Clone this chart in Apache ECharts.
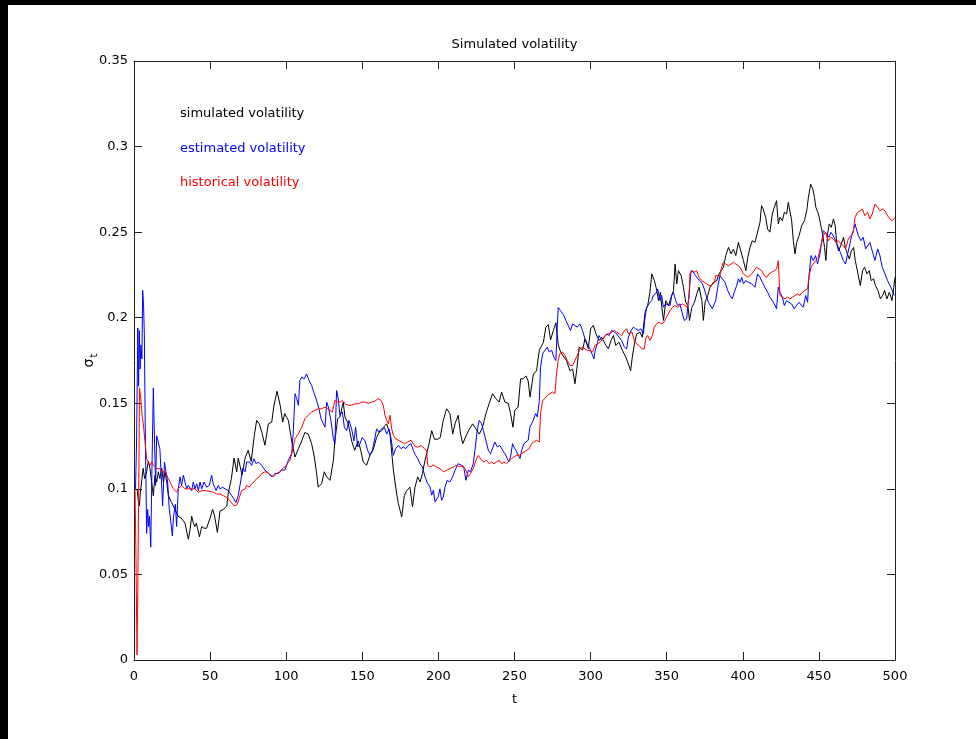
<!DOCTYPE html>
<html>
<head>
<meta charset="utf-8">
<title>Simulated volatility</title>
<script src="https://cdn.jsdelivr.net/npm/echarts@6/dist/echarts.min.js"></script>
<style>
  html, body { margin: 0; padding: 0; background: #fff; }
  #chart { width: 976px; height: 739px; }
</style>
</head>
<body>
<div id="chart"></div>
<script>
// Volatility paths: [t, sigma_t]
const simulatedVol = [
  [2,0.100],[3,0.092],[3.5,0.090],[4.2,0.098],[5,0.104],[6,0.112],[7,0.106],[8.3,0.110],[9.4,0.116],[10.5,0.112],
  [11.6,0.104],[12.7,0.096],[13.8,0.108],[14.9,0.104],[16,0.110],[17,0.106],[18.2,0.112],[19.3,0.104],[20.4,0.110],[21.5,0.104],
  [22.6,0.096],[24.7,0.092],[27,0.088],[29,0.084],[31,0.083],[33.5,0.080],[35.7,0.0706],[36.8,0.076],[37.9,0.084],[39,0.080],
  [40,0.078],[41,0.080],[43,0.072],[44.5,0.078],[46,0.077],[47.7,0.077],[50,0.083],[51.7,0.088],[53,0.084],[54.8,0.0745],
  [56.5,0.087],[58.7,0.088],[61,0.090],[62,0.098],[64,0.106],[65.7,0.118],[67.5,0.110],[68.5,0.118],[71,0.108],[73,0.118],
  [75,0.1225],[77,0.116],[79,0.131],[80.6,0.140],[82.3,0.138],[84,0.133],[86,0.1255],[88.3,0.138],[90.5,0.139],[92,0.149],
  [94,0.157],[96,0.149],[97.7,0.139],[99,0.144],[101.4,0.140],[103.6,0.128],[105.8,0.1186],[108,0.1235],[110.2,0.128],[112.3,0.133],
  [114.5,0.132],[116.7,0.1264],[118.5,0.1186],[120,0.109],[121,0.101],[123.3,0.103],[125,0.110],[126.6,0.107],[128.8,0.105],[131,0.1167],
  [132,0.128],[133.8,0.141],[135.3,0.142],[137.5,0.1507],[138.6,0.142],[140.8,0.138],[143,0.128],[145,0.1225],[147.3,0.128],[149,0.1225],
  [150.6,0.1157],[152.8,0.1138],[155,0.1196],[157,0.1225],[159.4,0.130],[161.6,0.134],[163.8,0.136],[166,0.138],[168.2,0.132],[170.4,0.111],
  [172.6,0.097],[173.7,0.0914],[175.9,0.0836],[177.6,0.096],[179.2,0.099],[181.3,0.101],[183,0.0895],[184.6,0.101],[186.4,0.107],[188,0.104],
  [189.5,0.109],[191.2,0.1167],[193.4,0.1245],[195.6,0.134],[197.4,0.129],[199.6,0.129],[201.2,0.130],[203.2,0.140],[205.4,0.1468],[207.6,0.144],
  [209.4,0.132],[210.9,0.138],[213,0.143],[214.6,0.132],[216,0.1264],[218.2,0.131],[220.4,0.135],[222.5,0.138],[224.7,0.135],[226.9,0.132],
  [229,0.136],[231.2,0.144],[233.4,0.150],[235.6,0.1556],[237.8,0.1527],[240,0.1507],[241.5,0.1566],[243.7,0.1507],[245.9,0.150],[247.4,0.144],
  [249,0.136],[250.2,0.1459],[252.4,0.1478],[254,0.1643],[255.7,0.1643],[257.5,0.166],[259,0.163],[260.2,0.1536],[262.4,0.167],[264.5,0.169],
  [266.3,0.181],[269,0.1857],[270.6,0.1945],[272.2,0.196],[273.7,0.187],[275.5,0.1925],[277.2,0.197],[278.8,0.184],[280.3,0.180],[282.5,0.177],
  [284.2,0.175],[286.4,0.169],[288.2,0.170],[289.7,0.1614],[290.8,0.169],[292.5,0.183],[294.7,0.181],[296.3,0.1877],[298.5,0.182],[300,0.1935],
  [301.8,0.1955],[303.5,0.1906],[305.7,0.1867],[307.3,0.1886],[309.5,0.1847],[311.7,0.1818],[313.4,0.1867],[315,0.1896],[316.5,0.1838],[318.7,0.1857],
  [320.9,0.1809],[323.1,0.177],[324.8,0.173],[326.3,0.169],[327.4,0.177],[328.8,0.1847],[330.3,0.1906],[332.5,0.1916],[334,0.1886],[335.8,0.2032],
  [337.5,0.207],[339,0.215],[340.2,0.2256],[341.9,0.2217],[343.5,0.216],[344.6,0.210],[345.9,0.215],[346.8,0.206],[347.9,0.1984],[349.4,0.210],
  [351.2,0.207],[352.9,0.212],[354.5,0.216],[355.5,0.2314],[356.6,0.2198],[357.7,0.2275],[359.5,0.2246],[361,0.2178],[362.5,0.209],[363.9,0.207],
  [365,0.1984],[366.5,0.206],[368.2,0.209],[369.8,0.214],[371.3,0.2178],[373.1,0.210],[374.1,0.1984],[375.2,0.209],[377,0.213],[378.5,0.2178],
  [380.7,0.2207],[382.9,0.2217],[384.4,0.2256],[385.7,0.2275],[387.3,0.2295],[388.8,0.2363],[390.6,0.2411],[392.3,0.2373],[393.8,0.240],[395.4,0.2363],
  [397.1,0.244],[398.7,0.239],[400.4,0.2334],[402,0.2275],[403.3,0.2353],[404.7,0.241],[406.2,0.245],[408,0.244],[409.7,0.250],[411.3,0.2557],
  [412.3,0.2655],[413.4,0.2635],[415,0.2587],[416.3,0.2518],[417.8,0.250],[419.4,0.2606],[420.7,0.2645],[422.2,0.2684],[423.3,0.2548],[424.4,0.2587],
  [426,0.2567],[427.3,0.2616],[428.8,0.2606],[429.9,0.2674],[431,0.2664],[432.1,0.2567],[433.2,0.245],[434.3,0.2373],[435.4,0.244],[437,0.248],
  [438.7,0.2538],[440.5,0.2567],[442,0.2625],[443.1,0.2703],[444.6,0.278],[446,0.2751],[447.1,0.2703],[448,0.2645],[449.3,0.2616],[450.2,0.2587],
  [451.5,0.2528],[452.4,0.249],[453.7,0.241],[454.6,0.2334],[455.7,0.249],[456.8,0.2548],[458.1,0.2528],[459.6,0.2577],[460.7,0.2538],[461.8,0.243],
  [462.9,0.239],[464.7,0.243],[466.2,0.247],[467.3,0.241],[468.4,0.238],[470,0.2343],[471.3,0.239],[472.8,0.241],[473.9,0.2334],[475.7,0.2256],
  [477.2,0.2188],[478.7,0.2275],[480,0.2295],[481.6,0.2256],[483.1,0.2275],[484.4,0.2217],[486,0.2227],[487.1,0.2188],[488.8,0.2159],[490.4,0.211],
  [491.9,0.213],[493.2,0.2159],[494.7,0.211],[496.3,0.2149],[498,0.210],[499.2,0.2178],[500,0.2236]
];

const estimatedVol = [
  [1,0.100],[1.7,0.128],[2.5,0.194],[3,0.160],[3.5,0.1925],[4,0.170],[4.5,0.184],[5.2,0.176],[5.7,0.216],[6.3,0.207],
  [6.8,0.190],[7.4,0.135],[8.3,0.074],[9,0.088],[9.6,0.078],[10.2,0.084],[11,0.066],[11.8,0.112],[12.7,0.159],[13.4,0.131],
  [14.2,0.102],[14.9,0.131],[16,0.130],[17,0.1235],[18.2,0.102],[18.8,0.090],[20,0.1157],[21,0.110],[22.1,0.104],[23.2,0.088],
  [24.3,0.080],[25.2,0.0725],[26,0.084],[27.2,0.091],[28,0.078],[29.1,0.100],[30.2,0.107],[31.3,0.102],[32.4,0.108],[33.5,0.104],
  [34.6,0.100],[35.7,0.102],[36.8,0.103],[37.9,0.099],[39,0.104],[40,0.100],[41.2,0.103],[42.3,0.099],[43.4,0.104],[44.5,0.100],
  [46,0.104],[47.7,0.101],[49.5,0.102],[51,0.108],[52,0.103],[53.9,0.099],[55.4,0.102],[56.5,0.100],[58.3,0.101],[59.8,0.100],
  [62,0.099],[64.2,0.096],[65.7,0.094],[67,0.092],[68.5,0.096],[70,0.104],[71.4,0.112],[73,0.110],[74,0.1157],[75.8,0.1157],
  [77.3,0.1137],[78.8,0.1176],[80.2,0.1147],[81.7,0.1157],[83.9,0.1137],[86,0.111],[88.3,0.109],[90.5,0.107],[92.6,0.109],[94.8,0.109],
  [97,0.111],[99.2,0.111],[101.4,0.1167],[103.6,0.1206],[104.7,0.134],[105.8,0.1556],[106.9,0.1527],[108,0.1488],[109,0.1634],[110.2,0.1653],
  [111.9,0.1643],[113.4,0.1672],[115,0.1634],[116.7,0.1604],[118.5,0.1556],[120,0.1517],[121.5,0.1468],[122.9,0.141],[124.4,0.138],[125.5,0.136],
  [126.6,0.1507],[127.7,0.1478],[129.4,0.140],[131,0.1293],[132,0.1264],[133.1,0.1575],[134.2,0.1527],[135.3,0.143],[136.9,0.145],[138.2,0.136],
  [139.7,0.134],[141.2,0.140],[143,0.135],[144.5,0.128],[145.6,0.136],[147,0.1245],[148.5,0.1264],[150,0.130],[151.8,0.128],[153.5,0.1225],
  [155,0.1196],[156.6,0.1225],[157.9,0.128],[159.4,0.135],[161,0.133],[162.7,0.134],[164.5,0.136],[166,0.132],[167.5,0.135],[168.8,0.130],
  [170.4,0.1196],[171.9,0.1235],[173.7,0.1254],[175.4,0.1235],[177,0.1245],[178.5,0.1235],[180.2,0.1254],[182,0.1264],[183.5,0.1225],[185,0.1196],
  [186.4,0.1177],[187.9,0.1147],[189.5,0.1128],[191.2,0.107],[193,0.103],[194.5,0.101],[195.6,0.0963],[196.7,0.0992],[197.8,0.0924],[198.8,0.0914],
  [199.9,0.0953],[201,0.100],[202.1,0.0933],[203.2,0.0953],[204.3,0.101],[205.8,0.105],[207.6,0.104],[209.3,0.107],[210.9,0.1108],[213,0.1147],
  [215.2,0.1138],[216.8,0.1118],[218.1,0.105],[219.6,0.1108],[221.1,0.110],[222.9,0.1147],[224,0.1225],[225.5,0.1342],[226.8,0.140],[228.4,0.138],
  [229.5,0.1342],[231.2,0.1284],[232.8,0.1225],[234.3,0.1206],[235.6,0.1196],[237.1,0.1274],[238.7,0.1245],[240.4,0.1254],[242.2,0.1225],[243.7,0.1206],
  [244.8,0.1186],[246.3,0.1157],[247.4,0.1186],[248.7,0.1264],[249.6,0.1245],[250.9,0.1225],[252.5,0.1196],[253.6,0.1177],[254.7,0.1225],[256.2,0.1264],
  [257.5,0.1254],[259,0.1284],[260.1,0.136],[261.2,0.138],[262.3,0.140],[263.9,0.144],[265,0.142],[266.3,0.1517],[267.1,0.171],[268.5,0.179],
  [270,0.181],[271.5,0.1828],[272.8,0.180],[274.4,0.181],[275.9,0.177],[277.2,0.175],[278.1,0.1945],[278.7,0.206],[280.3,0.204],[282,0.202],
  [283.8,0.1984],[285.3,0.1954],[286.8,0.1925],[288.2,0.1964],[289.7,0.1954],[291.2,0.1945],[293,0.1964],[294.7,0.1925],[296.3,0.1877],[297.8,0.1848],
  [299.6,0.1818],[301.3,0.178],[302.2,0.176],[303,0.181],[304.4,0.1848],[305.5,0.1896],[307.3,0.1867],[309,0.1886],[310.6,0.1906],[312.1,0.1896],
  [313.9,0.1925],[315.6,0.1916],[317.1,0.1906],[318.7,0.1886],[320.4,0.1867],[322.2,0.1828],[323.7,0.1818],[324.8,0.1886],[326.6,0.1925],[328.1,0.1945],
  [329.6,0.1935],[331.4,0.1925],[333.1,0.1935],[334.7,0.1906],[335.8,0.2003],[336.8,0.2061],[338.4,0.2081],[340.1,0.210],[341.2,0.213],[342.8,0.214],
  [344.1,0.2168],[345.6,0.210],[346.7,0.213],[347.8,0.2061],[349.3,0.2081],[350.6,0.209],[352.2,0.2071],[353.3,0.213],[354.4,0.2149],[355.9,0.210],
  [357.2,0.2071],[358.7,0.2081],[360.3,0.2022],[361.6,0.1984],[363.1,0.1993],[364.7,0.214],[366,0.2275],[367.5,0.2266],[369,0.2246],[370.4,0.2227],
  [371.9,0.2217],[373.4,0.2198],[374.7,0.2168],[376.3,0.212],[377.4,0.209],[378.5,0.210],[380,0.2052],[381.3,0.2081],[382.2,0.210],[383.5,0.2178],
  [385,0.2246],[386.6,0.2227],[388.3,0.2207],[390.1,0.2159],[391.6,0.213],[393.1,0.211],[394.4,0.2149],[396,0.2188],[397.1,0.2227],[398.2,0.2207],
  [399.3,0.2236],[400.4,0.2198],[401.9,0.2217],[403.6,0.2207],[405.8,0.2198],[408,0.2178],[409.7,0.2256],[411.3,0.2236],[412.8,0.2207],[414.5,0.2178],
  [416.3,0.2149],[417.8,0.212],[419.4,0.210],[420.7,0.208],[422.2,0.2052],[423.3,0.2178],[424.4,0.2149],[426,0.212],[427.3,0.2071],[428.8,0.210],
  [430.3,0.209],[432.1,0.208],[433.8,0.2052],[435.3,0.2071],[436.9,0.209],[438.2,0.208],[439.7,0.2061],[441.3,0.213],[442.6,0.209],[443.4,0.2236],
  [444.8,0.2363],[446.3,0.2334],[447.8,0.2363],[449.1,0.2314],[450.7,0.2373],[451.8,0.244],[452.9,0.2509],[454,0.2518],[455,0.249],[456.6,0.247],
  [457.9,0.2499],[459.4,0.248],[461,0.245],[462.7,0.2411],[464.5,0.2373],[466,0.2334],[467.5,0.2314],[468.9,0.2373],[470.4,0.2431],[471.5,0.248],
  [472.6,0.2509],[473.7,0.2548],[474.8,0.2538],[475.9,0.248],[477.6,0.245],[479.1,0.247],[480.7,0.2402],[482,0.2411],[483.5,0.244],[485,0.2392],
  [486.8,0.2334],[488.6,0.2402],[490.1,0.2363],[491.6,0.2295],[493.4,0.2256],[495.1,0.2217],[496.7,0.2188],[498.2,0.2159],[499.5,0.213]
];

const historicalVol = [
  [0.7,0.099],[1.3,0.060],[2,0.003],[2.5,0.040],[2.8,0.0725],[3.3,0.120],[3.6,0.159],[4.4,0.153],[5.3,0.143],[6.1,0.138],
  [7.2,0.128],[8.3,0.1176],[9.4,0.1157],[10.5,0.1137],[11.6,0.1157],[12.7,0.1137],[13.8,0.1127],[14.9,0.1118],[16,0.1127],[17,0.1118],
  [18.2,0.110],[19.3,0.111],[20.4,0.110],[21.5,0.108],[22.6,0.106],[23.7,0.104],[24.7,0.102],[25.8,0.100],[27,0.099],[28,0.098],
  [29.1,0.100],[30.2,0.101],[31.3,0.102],[32.4,0.101],[33.5,0.100],[34.6,0.101],[35.7,0.100],[36.8,0.099],[37.9,0.100],[39,0.099],
  [40,0.100],[41.2,0.099],[42.3,0.098],[43.4,0.099],[44.5,0.099],[45.7,0.098],[46.8,0.099],[47.9,0.098],[50,0.0985],[52.2,0.098],
  [54.3,0.097],[56.5,0.097],[58.7,0.096],[61,0.095],[63,0.093],[64.8,0.091],[66.4,0.090],[67.9,0.091],[69.6,0.096],[70.7,0.099],
  [71.8,0.100],[73,0.100],[74,0.102],[75.8,0.101],[77.3,0.103],[78.8,0.104],[80.6,0.106],[82.3,0.107],[83.9,0.109],[86,0.110],
  [88.3,0.1094],[89.8,0.108],[91.5,0.107],[93.7,0.109],[96,0.110],[97.7,0.112],[99.2,0.1127],[100.7,0.1147],[102.5,0.1167],[103.6,0.1206],
  [105.8,0.1293],[108,0.1322],[110.2,0.136],[112.3,0.141],[114.5,0.143],[116.7,0.1449],[118.9,0.1459],[121.1,0.1468],[123.3,0.1468],[125.5,0.1478],
  [127.3,0.1468],[128.8,0.1459],[130.3,0.1449],[132,0.1517],[133.8,0.1507],[135.3,0.1507],[136.9,0.1517],[138.6,0.1497],[140.8,0.1488],[143,0.1488],
  [145.2,0.1497],[147.4,0.1497],[149.6,0.1507],[151.8,0.1507],[154,0.150],[156.1,0.1507],[158.3,0.1513],[160.5,0.1527],[162.3,0.1517],[163.8,0.1488],
  [164.9,0.143],[166,0.140],[167.1,0.138],[168.2,0.143],[169.3,0.135],[170.4,0.1313],[171.9,0.1293],[173.7,0.1284],[175.9,0.1274],[177.6,0.1264],
  [179.8,0.1274],[182,0.1284],[183.5,0.1264],[185,0.1245],[186.8,0.1245],[189,0.1254],[190.7,0.1235],[192.3,0.1225],[192.9,0.1138],[194.5,0.1128],
  [196.7,0.1138],[198.8,0.1128],[201,0.1118],[203.2,0.110],[205.4,0.1108],[207.6,0.1118],[209.8,0.1128],[212,0.1138],[214,0.1128],[215.9,0.1138],
  [217.4,0.1118],[218.5,0.110],[219.6,0.107],[221.1,0.1089],[222.9,0.1118],[224.7,0.1167],[226.2,0.1196],[227.3,0.1206],[228.4,0.1167],[229.9,0.1157],
  [231.7,0.1167],[233.4,0.1147],[235,0.1157],[236.5,0.1147],[238.2,0.1157],[240,0.1167],[241.5,0.1147],[243.1,0.1157],[244.8,0.1147],[246.6,0.1167],
  [248.1,0.1177],[249.6,0.1186],[251.4,0.1196],[253.1,0.1196],[254.7,0.1206],[256.2,0.1215],[258,0.1225],[259.7,0.1235],[261.2,0.1264],[262.8,0.1274],
  [264.5,0.1284],[266.3,0.1274],[267.1,0.1439],[268.5,0.1517],[270,0.1527],[271.5,0.1546],[273.3,0.1556],[275,0.1566],[276.6,0.1556],[277.6,0.1673],
  [278.7,0.175],[279.8,0.179],[281.6,0.180],[283.1,0.178],[284.7,0.175],[286.4,0.1721],[288.2,0.1721],[289.7,0.175],[291.2,0.178],[293,0.1818],
  [294.7,0.1828],[296.3,0.1818],[297.8,0.1809],[299.6,0.1809],[301.3,0.180],[302.9,0.1838],[305,0.1848],[307.3,0.1867],[309.5,0.1896],[311.7,0.1906],
  [313.9,0.1916],[315.6,0.1925],[317.1,0.1916],[318.7,0.1906],[320.4,0.1896],[322.2,0.1925],[323.7,0.1935],[324.8,0.1906],[326,0.1896],[327.2,0.1916],
  [328.7,0.1867],[330.3,0.1848],[331.8,0.1838],[333.6,0.1818],[335.3,0.1818],[336.2,0.1877],[337.5,0.1896],[339,0.1867],[340.6,0.1896],[341.9,0.1945],
  [343.4,0.1964],[345,0.1974],[346.7,0.1964],[348.2,0.1974],[349.3,0.1993],[350.6,0.2003],[352.2,0.2042],[353.7,0.2061],[355.5,0.2071],[357.2,0.2061],
  [358.7,0.2071],[360.3,0.2081],[362,0.2071],[363.6,0.2061],[364.7,0.212],[365.3,0.2256],[366.8,0.2275],[368.2,0.2266],[369.7,0.2275],[371.2,0.2236],
  [373,0.2217],[374.7,0.2207],[376.3,0.2198],[377.8,0.2188],[379.5,0.2188],[381.3,0.2207],[382.2,0.2246],[383.5,0.2236],[385,0.2246],[386.1,0.2295],
  [387.2,0.2324],[388.7,0.2314],[390.5,0.2304],[392.3,0.2314],[393.8,0.2324],[395.3,0.2314],[397.1,0.2304],[398.8,0.2285],[400.4,0.2256],[401.9,0.2246],
  [403.6,0.2236],[405.8,0.2256],[407.5,0.2275],[409,0.2295],[410.7,0.2285],[412.4,0.2275],[414.1,0.2246],[415.6,0.2236],[417.2,0.2256],[418.9,0.2266],
  [420.7,0.2275],[422.2,0.2285],[423.3,0.2334],[424.4,0.213],[426,0.212],[427.7,0.211],[429.4,0.212],[431,0.211],[432.5,0.212],[434.3,0.213],
  [436,0.2139],[437.5,0.213],[439.1,0.2149],[440.8,0.2159],[442.6,0.2168],[443.4,0.2236],[444.8,0.2295],[446.3,0.2314],[447.8,0.2334],[449.6,0.2353],
  [451.3,0.2421],[452.9,0.248],[454.4,0.2499],[456.2,0.245],[457.9,0.247],[459.4,0.246],[461,0.244],[462.7,0.245],[464.5,0.2431],[466,0.2421],
  [467.5,0.2402],[469.3,0.246],[471,0.248],[472.6,0.2499],[473.7,0.2587],[475.4,0.2616],[477,0.2625],[478.5,0.2635],[480.2,0.2596],[482,0.2616],
  [483.5,0.2577],[485,0.2606],[486.8,0.2664],[488.6,0.2645],[490.1,0.2625],[491.6,0.2635],[493.4,0.2625],[495.1,0.2596],[496.7,0.2577],[498.2,0.2567],
  [500,0.2587]
];

const seriesNames = ['simulated volatility', 'estimated volatility', 'historical volatility'];
const seriesColors = ['#000000', '#0000ff', '#ff0000'];
const seriesData = [simulatedVol, estimatedVol, historicalVol];

const FONT = '"DejaVu Sans", "Liberation Sans", Arial, sans-serif';
const AXIS_COLOR = '#222';

const chart = echarts.init(document.getElementById('chart'), null, { renderer: 'canvas' });

// shared settings for the mirrored box axes
const tickStyle = { show: true, inside: true, length: 8, lineStyle: { color: AXIS_COLOR, width: 1 } };
const lineStyle = { show: true, onZero: false, lineStyle: { color: AXIS_COLOR, width: 1 } };

const option = {
  backgroundColor: '#ffffff',
  animation: false,
  graphic: [
    { type: 'rect', shape: { x: 0, y: 0, width: 976, height: 5 }, style: { fill: '#000' }, z: 100 },
    { type: 'rect', shape: { x: 0, y: 0, width: 8, height: 739 }, style: { fill: '#000' }, z: 100 },
    {
      type: 'text', x: 514.5, y: 45, z: 100,
      style: {
        text: 'Simulated volatility', fill: '#000',
        font: '13px ' + FONT, textAlign: 'center', textVerticalAlign: 'middle'
      }
    }
  ],
  grid: { left: 134, right: 81, top: 61, bottom: 79, containLabel: false },
  legend: {
    orient: 'vertical',
    left: 170,
    top: 102,
    icon: 'rect',
    itemWidth: 0,
    itemHeight: 0,
    itemGap: 20.5,
    selectedMode: false,
    textStyle: { fontSize: 13, fontFamily: FONT, lineHeight: 14 },
    data: seriesNames.map((n, i) => ({ name: n, textStyle: { color: seriesColors[i] } }))
  },
  xAxis: [
    {
      type: 'value', min: 0, max: 500, interval: 50, position: 'bottom',
      name: 't', nameLocation: 'middle', nameGap: 33, nameMoveOverlap: false,
      nameTextStyle: { fontSize: 13, fontFamily: FONT, color: '#000' },
      axisLine: lineStyle, axisTick: tickStyle, splitLine: { show: false },
      axisLabel: { fontSize: 13, fontFamily: FONT, color: '#000', margin: 10 }
    },
    {
      type: 'value', min: 0, max: 500, interval: 50, position: 'top',
      axisLine: lineStyle, axisTick: tickStyle, splitLine: { show: false },
      axisLabel: { show: false }
    }
  ],
  yAxis: [
    {
      type: 'value', min: 0, max: 0.35, interval: 0.05, position: 'left',
      name: '{s|σ}{t|t}', nameLocation: 'middle', nameGap: 35, nameMoveOverlap: false,
      nameTextStyle: {
        color: '#000', fontFamily: FONT,
        rich: {
          s: { fontSize: 14, fontFamily: FONT, color: '#000' },
          t: { fontSize: 10, fontFamily: FONT, color: '#000', padding: [9, 0, 0, 1] }
        }
      },
      axisLine: lineStyle, axisTick: tickStyle, splitLine: { show: false },
      axisLabel: { fontSize: 13, fontFamily: FONT, color: '#000', margin: 6 }
    },
    {
      type: 'value', min: 0, max: 0.35, interval: 0.05, position: 'right',
      axisLine: lineStyle, axisTick: tickStyle, splitLine: { show: false },
      axisLabel: { show: false }
    }
  ],
  series: seriesNames.map((n, i) => ({
    name: n,
    type: 'line',
    xAxisIndex: 0,
    yAxisIndex: 0,
    data: seriesData[i],
    showSymbol: false,
    symbol: 'none',
    sampling: null,
    clip: true,
    lineStyle: { color: seriesColors[i], width: 1 },
    itemStyle: { color: seriesColors[i] },
    z: 2 + i
  }))
};

chart.setOption(option);
</script>
</body>
</html>
